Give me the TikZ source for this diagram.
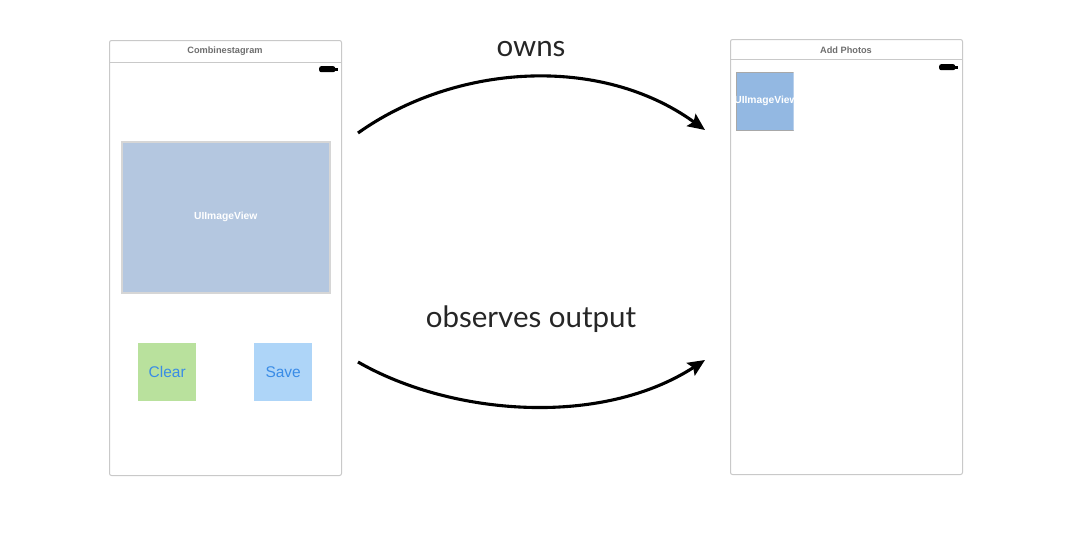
\documentclass[tikz,border=0pt]{standalone}
\usepackage{fontspec}
\setmainfont{Liberation Sans}
\newfontfamily\labelfont{Lato}
\usetikzlibrary{arrows.meta}
\definecolor{frameline}{HTML}{C9C9C9}
\definecolor{titlegray}{HTML}{6E6E6E}
\definecolor{imgfill}{HTML}{B4C7E0}
\definecolor{imgedge}{HTML}{D6D6D6}
\definecolor{thumbfill}{HTML}{93B8E2}
\definecolor{thumbedge}{HTML}{A8A8A8}
\definecolor{clearfill}{HTML}{B9E19D}
\definecolor{savefill}{HTML}{AED5F8}
\definecolor{btntext}{HTML}{3A8CE6}
\tikzset{
  screen/.style={draw=frameline, line width=1pt, rounded corners=2pt, fill=white,
    anchor=north west, inner sep=0pt},
  screentitle/.style={font=\bfseries\fontsize{9.2}{11}\selectfont, text=titlegray},
  battery/.style={fill=black, rounded corners=2pt, anchor=north west, inner sep=0pt,
    minimum width=16pt, minimum height=6pt},
  imageview/.style={anchor=north west, inner sep=0pt, text=white,
    font=\bfseries\fontsize{10.3}{12}\selectfont},
  button/.style={anchor=north west, inner sep=0pt, minimum width=58pt, minimum height=58pt,
    text=btntext, font=\fontsize{15.5}{18}\selectfont},
  relation/.style={line width=3.1pt, -{Stealth[length=17pt, width=15pt, inset=3pt]}},
  relationlabel/.style={font=\labelfont\fontsize{29.5}{34}\selectfont, text=black!85}
}
\begin{document}
\begin{tikzpicture}[x=1pt, y=-1pt]
\useasboundingbox (0,0) rectangle (1072,536);

% left screen
\node[screen, minimum width=232pt, minimum height=435pt] (left) at (109,40) {};
\draw[frameline, line width=1pt] (109,62) -- (341,62);
\node[screentitle] (lefttitle) at (225,51.5) {Combinestagram};
\node[battery] (leftbatt) at (319,66) {};
\fill (335,67.5) rectangle (337.5,70.5);

\node[imageview, fill=imgfill, draw=imgedge, line width=1.5pt,
  minimum width=208pt, minimum height=151pt] (mainimage) at (121,141) {UIImageView};
\node[button, fill=clearfill] (clear) at (138,343) {Clear};
\node[button, fill=savefill] (save) at (254,343) {Save};

% right screen
\node[screen, minimum width=232pt, minimum height=435pt] (right) at (730,39) {};
\draw[frameline, line width=1pt] (730,59.5) -- (962,59.5);
\node[screentitle] (righttitle) at (846,50) {Add Photos};
\node[battery] (rightbatt) at (939,64) {};
\fill (955,65.5) rectangle (957.5,68.5);

\begin{scope}
  \clip (736,72) rectangle (793.5,130);
  \node[imageview, fill=thumbfill, draw=thumbedge, line width=1.2pt,
    minimum width=57.5pt, minimum height=58pt] (thumb) at (736,72) {};
  \node[text=white, font=\bfseries\fontsize{10.3}{12}\selectfont] (thumblabel) at (766,101) {UIImageView};
\end{scope}

% relations between the two screens
\coordinate (ownsstart) at (358,133);
\coordinate (ownsend) at (705,130);
\coordinate (obsstart) at (358,362);
\coordinate (obsend) at (705,360);

\draw[relation] (ownsstart) .. controls (455,64) and (600,54) .. (ownsend);
\node[relationlabel] (owns) at (531,49) {owns};

\draw[relation] (obsstart) .. controls (450,415) and (600,428) .. (obsend);
\node[relationlabel] (observes) at (531,319) {observes output};
\end{tikzpicture}
\end{document}
